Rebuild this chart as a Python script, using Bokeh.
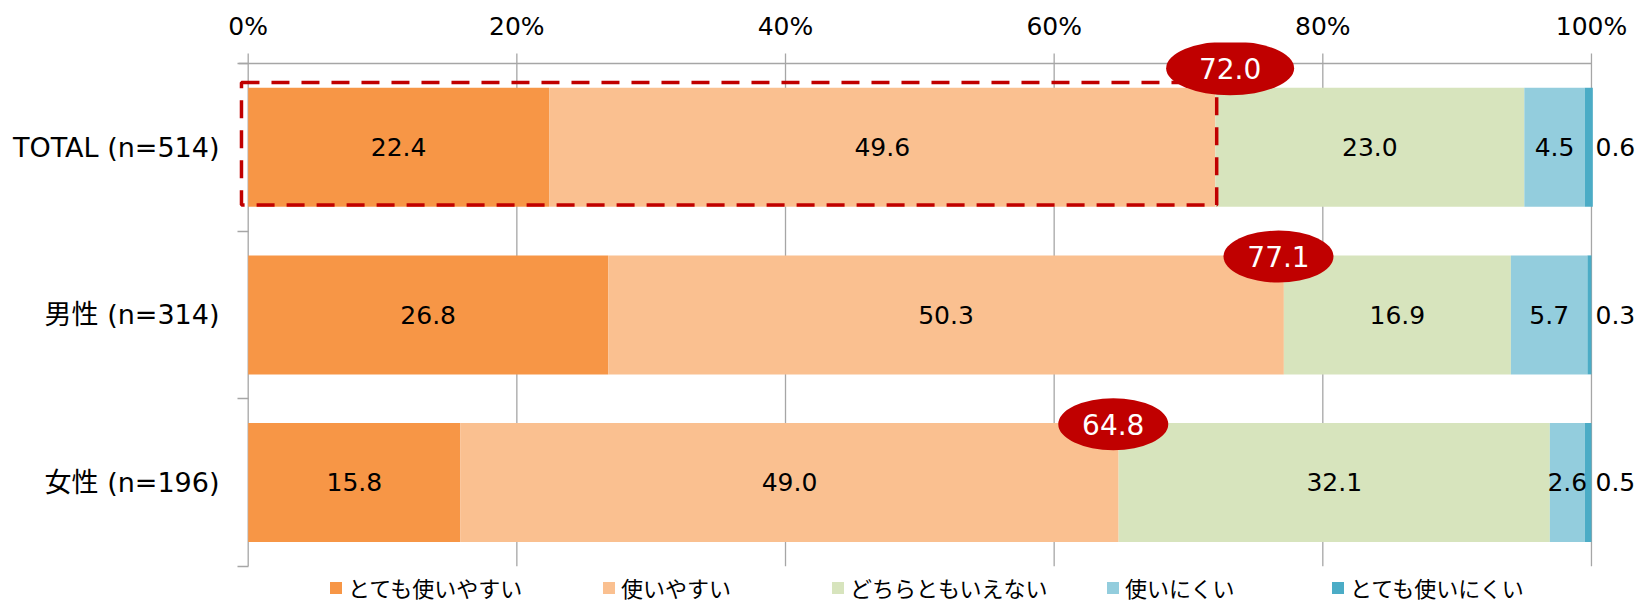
from bokeh.plotting import figure
from bokeh.models import Range1d, FixedTicker, Legend, LegendItem, ColumnDataSource
from bokeh.embed import file_html
from bokeh.resources import INLINE
from bokeh.core.properties import value

# ---------------- data ----------------
categories = ["TOTAL (n=514)", "男性 (n=314)", "女性 (n=196)"]
series_names = ["とても使いやすい", "使いやすい", "どちらともいえない", "使いにくい", "とても使いにくい"]
very_easy = [22.4, 26.8, 15.8]
easy = [49.6, 50.3, 49.0]
neutral = [23.0, 16.9, 32.1]
hard = [4.5, 5.7, 2.6]
very_hard = [0.6, 0.3, 0.5]
top2 = [72.0, 77.1, 64.8]
x_ticks = [0, 20, 40, 60, 80, 100]
x_tick_labels = ["0%", "20%", "40%", "60%", "80%", "100%"]

# ---------------- style ----------------
colors = ["#F79646", "#FAC090", "#D7E4BD", "#93CDDD", "#4BACC6"]
GRAY = "#A6A6A6"
RED = "#C00000"
FONT = "DejaVu Sans, Noto Sans CJK JP"
JFONT = "Noto Sans CJK JP"
BAR_H = 0.71
PX_Y = 167.6            # pixels per category band
TICK = 10 / PX_Y        # tick length in band units
LEGEND_X = [90, 363, 592, 867, 1092]   # screen offsets of legend entries from frame left

series = [very_easy, easy, neutral, hard, very_hard]
n_cat = len(categories)
y_centers = [i + 0.5 for i in range(n_cat)]

data = {"y": y_centers}
for name, vals in zip(series_names, series):
    data[name] = vals
source = ColumnDataSource(data)

p = figure(width=1640, height=603,
           x_range=Range1d(-0.722, 103.65), y_range=Range1d(3.222, -0.1253),
           x_axis_location="above", output_backend="svg", toolbar_location=None,
           min_border_left=238, min_border_right=0, min_border_top=42, min_border_bottom=0,
           outline_line_color=None, background_fill_color="white", border_fill_color="white")

p.xgrid.visible = False
p.ygrid.visible = False

# gridlines + top ticks (behind bars)
nt = len(x_ticks)
p.segment(x0=x_ticks, y0=[-TICK] * nt, x1=x_ticks, y1=[n_cat] * nt,
          line_color=GRAY, line_width=1.3)
# top axis line
p.segment(x0=[p.x_range.start], y0=[0], x1=[x_ticks[-1]], y1=[0], line_color=GRAY, line_width=1.3)

renderers = p.hbar_stack(series_names, y="y", height=BAR_H, color=colors, line_color=None, source=source)

# data labels
lx, ly, lt, ax_, ay_, at_ = [], [], [], [], [], []
for ci in range(n_cat):
    left = 0.0
    for si, vals in enumerate(series):
        v = vals[ci]
        if si < len(series) - 1:
            lx.append(left + v / 2); ly.append(y_centers[ci]); lt.append(f"{v:.1f}")
        else:
            ax_.append(x_ticks[-1]); ay_.append(y_centers[ci]); at_.append(f"{v:.1f}")
        left += v
p.text(x=lx, y=ly, text=lt, text_align="center", text_baseline="middle",
       text_font=value(FONT), text_font_size="25px", text_color="#000000")
p.text(x=ax_, y=ay_, text=at_, text_align="left", text_baseline="middle", x_offset=4,
       text_font=value(FONT), text_font_size="25px", text_color="#000000")

# dashed highlight box around TOTAL top-2
bar_top0 = y_centers[0] - BAR_H / 2
bar_bot0 = y_centers[0] + BAR_H / 2
p.quad(left=[-0.50], right=[top2[0] + 0.1], top=[bar_top0 - 0.032], bottom=[bar_bot0 - 0.01],
       fill_color=None, line_color=RED, line_width=3.5, line_dash="18 12")

# ellipses with top-2 totals
ex, ey, ew = [], [], []
for ci in range(n_cat):
    top = y_centers[ci] - BAR_H / 2
    if ci == 0:
        ex.append(top2[ci] + 1.1); ey.append(top - 0.117); ew.append(128)
    else:
        ex.append(top2[ci] - 0.4); ey.append(top + 0.007); ew.append(110)
p.ellipse(x=ex, y=ey, width=ew, height=[54, 52, 52], width_units="screen", height_units="screen",
          fill_color=RED, line_color=None)
p.text(x=ex, y=ey, text=[f"{v:.1f}" for v in top2], text_align="center", text_baseline="middle",
       text_font=value(FONT), text_font_size="28px", text_color="white")

# top axis (labels only; line and ticks drawn above as segments)
xa = p.xaxis[0]
xa.ticker = FixedTicker(ticks=x_ticks)
xa.major_label_overrides = dict(zip(x_ticks, x_tick_labels))
xa.axis_line_color = None
xa.major_tick_line_color = None
xa.major_tick_out = 0
xa.major_tick_in = 0
xa.minor_tick_line_color = None
xa.major_label_text_font = FONT
xa.major_label_text_font_size = "25px"
xa.major_label_text_color = "#000000"
xa.major_label_standoff = 2

# left axis: category labels at centres, ticks at band boundaries
ya = p.yaxis[0]
ya.ticker = FixedTicker(ticks=y_centers, minor_ticks=list(range(n_cat + 1)))
ya.major_label_overrides = dict(zip(y_centers, categories))
ya.bounds = (0, n_cat)
ya.axis_line_color = None
ya.major_tick_line_color = None
ya.major_tick_out = 0
ya.major_tick_in = 0
ya.minor_tick_out = 1
ya.minor_tick_in = 10
ya.minor_tick_line_color = GRAY
ya.minor_tick_line_width = 1.3
ya.major_label_text_font = FONT
ya.major_label_text_font_size = "27px"
ya.major_label_text_color = "#000000"
ya.major_label_standoff = 18

# legend: one entry per Legend so each sits where the reference puts it
for name, r, lxo in zip(series_names, renderers, LEGEND_X):
    lg = Legend(items=[LegendItem(label=name, renderers=[r])],
                location=(lxo, 0), orientation="horizontal",
                glyph_width=15, glyph_height=15, label_standoff=5, spacing=0, padding=0, margin=0,
                border_line_color=None, background_fill_alpha=0,
                label_text_font=JFONT, label_text_font_size="22px", label_text_color="#000000")
    p.add_layout(lg)

open("out.html", "w").write(file_html(p, INLINE))
